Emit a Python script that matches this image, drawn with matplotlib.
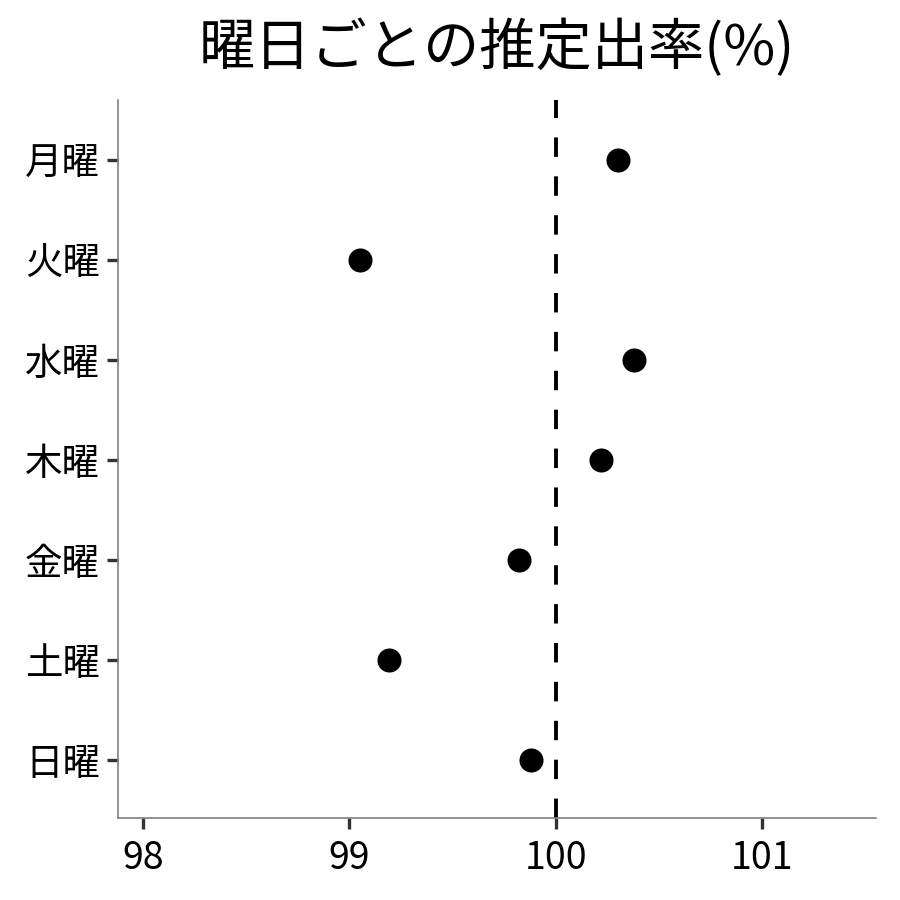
import numpy as np
import matplotlib
matplotlib.use("Agg")
import matplotlib.pyplot as plt

plt.rcParams['font.family'] = ['Noto Sans CJK JP', 'DejaVu Sans']

days = ['月曜', '火曜', '水曜', '木曜', '金曜', '土曜', '日曜']
rates = [100.30, 99.05, 100.38, 100.22, 99.82, 99.19, 99.88]
xticks = [98, 99, 100, 101]

fig = plt.figure(figsize=(9, 9), dpi=100)
ax = fig.add_axes([118/900, 1 - 818/900, (876 - 118)/900, (818 - 100)/900])

ypos = np.arange(len(days))
ax.scatter(rates, ypos, s=300, color='black', zorder=3, linewidths=0)
ax.axvline(100, color='black', linestyle=(0, (5, 5)), linewidth=2.8, zorder=2)

ax.set_xlim(97.879, 101.552)
ax.set_ylim(len(days) - 1 + 0.58, -0.6)
ax.set_yticks(ypos)
ax.set_yticklabels(days)
ax.set_xticks(xticks)
ax.set_xticklabels([str(t) for t in xticks])

for s in ['top', 'right']:
    ax.spines[s].set_visible(False)
for s in ['left', 'bottom']:
    ax.spines[s].set_color('#7f7f7f')
    ax.spines[s].set_linewidth(1.2)

ax.tick_params(axis='both', colors='#333333', length=8, width=2.4, labelsize=27,
               labelcolor='black', pad=5)
ax.tick_params(axis='x', pad=7)

fig.text(497/900, 1 - 49/900, '曜日ごとの推定出率(%)', ha='center', va='center', fontsize=40.5)

fig.savefig('out.png', dpi=100)
